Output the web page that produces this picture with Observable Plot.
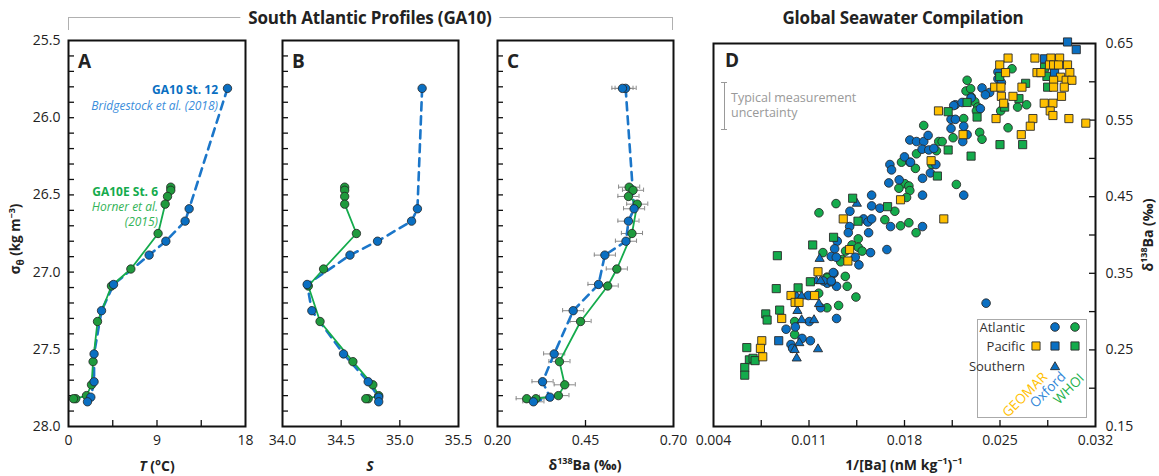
<!DOCTYPE html>
<html><head><meta charset="utf-8">
<script src="https://cdn.jsdelivr.net/npm/d3@7"></script>
<script src="https://cdn.jsdelivr.net/npm/@observablehq/plot@0.6"></script>
<style>
body{margin:0;background:#fff;}
#wrap{position:relative;width:1159px;height:476px;font-family:"Open Sans",sans-serif;color:#222;overflow:hidden;background:#fff}
.abs{position:absolute;white-space:nowrap;line-height:1}
.panel{position:absolute;top:0}
.panel svg{overflow:visible}
</style></head><body><div id="wrap"></div>
<script>
// ---------- Panels A–C: South Atlantic profiles ----------
// GA10 St. 12 (Bridgestock et al. 2018)
const blueSigma = [25.81, 26.59, 26.67, 26.80, 26.89, 27.08, 27.25, 27.53, 27.71, 27.81, 27.84];
const blueT     = [16.17, 12.27, 11.86, 9.90, 8.20, 4.58, 3.36, 2.60, 2.60, 2.27, 1.93];
const blueS     = [35.19, 35.15, 35.10, 34.81, 34.575, 34.21, 34.25, 34.52, 34.73, 34.82, 34.82];
const blueBa    = [0.564, 0.588, 0.572, 0.565, 0.505, 0.487, 0.415, 0.361, 0.328, 0.349, 0.302];
const blueBaReplicate = [[25.81, 0.555]];
// GA10E St. 6 (Horner et al. 2015)
const greenSigma = [26.45, 26.47, 26.51, 26.56, 26.75, 26.98, 27.09, 27.32, 27.58, 27.73, 27.80, 27.82, 27.82];
const greenT     = [10.40, 10.40, 10.07, 9.83, 9.11, 6.34, 4.37, 2.95, 2.50, 2.34, 1.83, 0.74, 0.51];
const greenS     = [34.53, 34.53, 34.53, 34.53, 34.63, 34.35, 34.22, 34.32, 34.60, 34.77, 34.82, 34.73, 34.71];
const greenBa    = [0.574, 0.585, 0.572, 0.597, 0.582, 0.539, 0.513, 0.436, 0.376, 0.391, 0.373, 0.309, 0.283];
const baError = 0.03;

const sigmaTicks = [25.5, 26.0, 26.5, 27.0, 27.5, 28.0];
const tTicks = [0, 9, 18];
const sTicks = [34.0, 34.5, 35.0, 35.5];
const baTicks = [0.20, 0.45, 0.70];

// ---------- Panel D: global seawater compilation [1/[Ba], d138Ba] ----------
const atlanticOxford = [
 [0.01283,0.350],[0.01234,0.337],[0.01302,0.333],[0.01263,0.339],[0.01095,0.321],[0.01185,0.305],[0.01102,0.287],
 [0.01302,0.291],[0.00932,0.277],[0.0100,0.280],[0.01049,0.265],[0.0111,0.262],[0.00968,0.257],[0.0098,0.252],
 [0.01693,0.492],[0.01705,0.485],[0.01839,0.495],[0.0203,0.492],[0.0199,0.481],[0.01932,0.474],[0.01685,0.468],
 [0.01761,0.472],[0.01932,0.452],[0.01559,0.452],[0.0140,0.431],[0.01559,0.438],[0.0162,0.435],[0.0150,0.421],
 [0.01532,0.417],[0.01559,0.421],[0.01698,0.411],[0.01932,0.411],[0.01398,0.411],[0.01388,0.403],[0.01537,0.403],
 [0.01307,0.392],[0.01288,0.382],[0.01551,0.377],[0.01671,0.381],[0.01263,0.372],[0.0130,0.371],[0.01439,0.371],
 [0.01466,0.361],[0.01278,0.351],[0.01205,0.340],[0.01263,0.340],
 [0.02485,0.613],[0.02485,0.604],[0.0251,0.599],[0.02368,0.592],[0.02424,0.586],[0.02393,0.583],[0.02173,0.570],
 [0.02161,0.569],[0.02222,0.573],[0.02288,0.579],[0.02356,0.565],[0.02141,0.551],[0.02173,0.551],[0.02141,0.539],
 [0.02234,0.542],[0.02259,0.531],[0.02227,0.522],[0.01839,0.524],[0.01888,0.522],[0.01941,0.522],[0.01973,0.530],
 [0.01929,0.512],[0.01978,0.511],[0.02015,0.513],[0.0180,0.502],[0.01844,0.495],[0.02234,0.452],[0.02398,0.311]
];
const atlanticWHOI = [
 [0.01232,0.345],[0.01366,0.346],[0.0138,0.333],[0.01444,0.319],[0.01171,0.324],[0.01317,0.308],[0.01232,0.305],
 [0.01017,0.312],[0.00995,0.287],[0.00995,0.270],
 [0.01778,0.495],[0.0188,0.487],[0.0200,0.492],[0.01802,0.467],[0.01832,0.464],[0.01839,0.458],[0.01759,0.461],
 [0.01815,0.449],[0.01298,0.441],[0.01173,0.429],[0.01729,0.431],[0.01656,0.420],[0.01771,0.412],[0.01832,0.416],
 [0.01885,0.403],[0.01461,0.395],[0.01202,0.377],[0.01415,0.387],[0.01461,0.384],[0.0149,0.379],[0.01368,0.379],
 [0.01344,0.368],[0.01332,0.365],[0.01234,0.344],
 [0.02588,0.617],[0.02505,0.562],[0.02629,0.567],[0.02695,0.570],[0.02559,0.540],[0.02259,0.602],[0.02251,0.588],
 [0.02285,0.591],[0.0229,0.580],[0.02315,0.574],[0.02337,0.567],[0.02327,0.562],[0.02234,0.552],[0.02351,0.534],
 [0.02368,0.525],[0.02156,0.527],[0.01941,0.543],[0.02051,0.522],[0.02076,0.522],[0.02034,0.510],[0.01888,0.506],
 [0.0218,0.466]
];
const pacificGEOMAR = [
 [0.01166,0.352],[0.00968,0.321],[0.01141,0.321],[0.00998,0.312],[0.01027,0.312],[0.0090,0.291],[0.00754,0.262],
 [0.00744,0.252],[0.00761,0.241],[0.01771,0.446],[0.01351,0.421],[0.02088,0.421],[0.01398,0.381],[0.01385,0.366],
 [0.02559,0.631],[0.02756,0.631],[0.02873,0.631],[0.02937,0.631],[0.02498,0.622],[0.02863,0.622],[0.02893,0.622],
 [0.02929,0.622],[0.02995,0.622],[0.02541,0.612],[0.02771,0.612],[0.0280,0.612],[0.03012,0.612],[0.02944,0.606],
 [0.02893,0.602],[0.02985,0.602],[0.03027,0.602],[0.02661,0.593],[0.02461,0.593],[0.02507,0.593],[0.02893,0.593],
 [0.02971,0.593],[0.0251,0.581],[0.02595,0.581],[0.02951,0.581],[0.02527,0.572],[0.02824,0.572],[0.02888,0.572],
 [0.02868,0.562],[0.02888,0.556],[0.02471,0.552],[0.02741,0.552],[0.03005,0.552],[0.03129,0.546],[0.02722,0.542],
 [0.02656,0.531],[0.02049,0.562],[0.02229,0.531],[0.01995,0.497]
];
const pacificOxford = [[0.00878,0.262],[0.02995,0.652],[0.03059,0.642],[0.02827,0.630],[0.0290,0.612]];
const pacificWHOI = [
 [0.0086,0.330],[0.0102,0.331],[0.0111,0.339],[0.00885,0.302],[0.00783,0.297],[0.00793,0.289],[0.00644,0.253],
 [0.00663,0.237],[0.0069,0.239],[0.00705,0.236],[0.00629,0.227],[0.00629,0.217],
 [0.02041,0.477],[0.0142,0.448],[0.01676,0.437],[0.01459,0.418],[0.0128,0.397],[0.01127,0.387],
 [0.02827,0.619],[0.02498,0.607],[0.02844,0.607],[0.02688,0.598],[0.02849,0.593],[0.02639,0.578],[0.0212,0.561],
 [0.02534,0.567],[0.02332,0.554],[0.02259,0.573],[0.0212,0.511],[0.0250,0.518],[0.02666,0.518],[0.02288,0.503],
 [0.00868,0.373]
];
const southernOxford = [
 [0.01154,0.340],[0.01185,0.340],[0.0101,0.320],[0.01046,0.320],[0.01173,0.310],[0.01015,0.301],[0.01046,0.289],
 [0.01137,0.289],[0.01029,0.259],[0.00995,0.250],[0.01166,0.251],[0.0101,0.239],[0.01451,0.441],[0.01178,0.369]
];
const dXTicks = [0.004, 0.011, 0.018, 0.025, 0.032];
const dYTicks = [0.15, 0.25, 0.35, 0.45, 0.55, 0.65];

// ---------- styling ----------
const BLUE = "#0a6fc2", BLUELINE = "#1b76c9", GREEN = "#14ab4c", DKGREEN = "#1f9a3d", YELLOW = "#ffc000";
const FONT = "Open Sans, sans-serif";
const wrap = document.getElementById("wrap");

const blueRows = blueSigma.map((s, i) => ({sigma: s, T: blueT[i], S: blueS[i], Ba: blueBa[i]}));
const greenRows = greenSigma.map((s, i) => ({sigma: s, T: greenT[i], S: greenS[i], Ba: greenBa[i]}));
const repRows = blueBaReplicate.map(([s, b]) => ({sigma: s, Ba: b}));

function place(svg, left) {
  const d = document.createElement("div");
  d.className = "panel"; d.style.left = left + "px";
  d.appendChild(svg); wrap.appendChild(d);
}
function txt(html, x, y, o = {}) {
  const el = document.createElement("div");
  el.className = "abs";
  el.innerHTML = html;
  const a = o.anchor || "middle";
  const tx = a === "start" ? "0" : a === "end" ? "-100%" : "-50%";
  el.style.left = x + "px"; el.style.top = y + "px";
  el.style.transform = `translate(${tx},-50%)` + (o.rotate ? ` rotate(${o.rotate}deg)` : "");
  el.style.fontSize = (o.size || 14) + "px";
  el.style.fontWeight = o.weight || "normal";
  el.style.fontStyle = o.italic ? "italic" : "normal";
  el.style.color = o.color || "#222";
  if (o.ls) el.style.letterSpacing = o.ls + "px";
  if (o.bg) { el.style.background = o.bg; el.style.padding = "0 8px"; }
  wrap.appendChild(el);
  return el;
}

const H = 476, MT = 40, MB = 50;
function profile({left, width, mL, mR, key, xDomain, xTicks, xFmt, xInner, yAxis, errors}) {
  const fw = width - mL - mR, fh = H - MT - MB;
  const sigmaMinor = d3.range(25.6, 27.95, 0.1);
  const marks = [
    Plot.tickY(sigmaMinor, {y: d => d, insetRight: fw - 6, stroke: "#111", strokeWidth: 1.3}),
    Plot.tickX(xInner, {x: d => d, insetTop: fh - 6, stroke: "#111", strokeWidth: 1.3}),
    Plot.axisX({ticks: xTicks, tickFormat: xFmt, tickSize: 0, tickPadding: 9, label: null})
  ];
  if (yAxis) marks.push(Plot.axisY({ticks: sigmaTicks, tickFormat: d => d.toFixed(1), tickSize: 0, tickPadding: 8, label: null}));
  if (errors) {
    for (const rows of [blueRows, greenRows, repRows]) {
      marks.push(
        Plot.ruleY(rows, {y: "sigma", x1: d => d.Ba - baError, x2: d => d.Ba + baError, stroke: "#8a8a8a", strokeWidth: 1}),
        Plot.ruleX(rows, {x: d => d.Ba - baError, y1: d => d.sigma - 0.014, y2: d => d.sigma + 0.014, stroke: "#8a8a8a", strokeWidth: 1}),
        Plot.ruleX(rows, {x: d => d.Ba + baError, y1: d => d.sigma - 0.014, y2: d => d.sigma + 0.014, stroke: "#8a8a8a", strokeWidth: 1})
      );
    }
  }
  marks.push(
    Plot.line(blueRows, {x: key, y: "sigma", stroke: BLUELINE, strokeWidth: 2.6, strokeDasharray: "8,6"}),
    Plot.line(greenRows, {x: key, y: "sigma", stroke: GREEN, strokeWidth: 1.8}),
    Plot.dot(greenRows, {x: key, y: "sigma", r: 4.2, fill: DKGREEN, stroke: "#222", strokeWidth: 0.8}),
    Plot.dot(blueRows, {x: key, y: "sigma", r: 4.2, fill: BLUE, stroke: "#222", strokeWidth: 0.8})
  );
  if (errors) marks.push(Plot.dot(repRows, {x: "Ba", y: "sigma", r: 4.2, fill: BLUE, stroke: "#222", strokeWidth: 0.8}));
  marks.push(Plot.frame({stroke: "#111", strokeWidth: 2}));
  const svg = Plot.plot({
    width, height: H, marginLeft: mL, marginRight: mR, marginTop: MT, marginBottom: MB,
    x: {domain: xDomain},
    y: {domain: [25.5, 28], reverse: true, axis: yAxis ? undefined : null},
    style: {fontFamily: FONT, fontSize: "14px", color: "#222", background: "transparent", overflow: "visible"},
    marks
  });
  place(svg, left);
}

profile({left: 0, width: 260, mL: 68, mR: 15, key: "T", xDomain: [0, 18], xTicks: tTicks, xFmt: d => String(d), xInner: [4.5, 9, 13.5], yAxis: true});
profile({left: 262, width: 212, mL: 20, mR: 16, key: "S", xDomain: [34, 35.5], xTicks: sTicks, xFmt: d => d.toFixed(1), xInner: [34.5, 35.0], yAxis: false});
profile({left: 477, width: 212, mL: 20, mR: 16, key: "Ba", xDomain: [0.2, 0.7], xTicks: baTicks, xFmt: d => d.toFixed(2), xInner: [0.45], yAxis: false, errors: true});

// Panel D
{
  const width = 469, mL = 23, mR = 64, mT = 43, mB = 50;
  const fw = width - mL - mR, fh = H - mT - mB;
  const pts = a => a.map(([x, y]) => ({x, y}));
  const dotStyle = {x: "x", y: "y", stroke: "#2a2a2a", strokeWidth: 0.9};
  const svg = Plot.plot({
    width, height: H, marginLeft: mL, marginRight: mR, marginTop: mT, marginBottom: mB,
    x: {domain: [0.004, 0.032]},
    y: {domain: [0.15, 0.65]},
    style: {fontFamily: FONT, fontSize: "14px", color: "#222", background: "transparent", overflow: "visible"},
    marks: [
      Plot.tickX([0.0075, 0.011, 0.0145, 0.018, 0.0215, 0.025, 0.0285], {x: d => d, insetTop: fh - 6, stroke: "#111", strokeWidth: 1.3}),
      Plot.tickY([0.2, 0.25, 0.3, 0.35, 0.4, 0.45, 0.5, 0.55, 0.6], {y: d => d, insetLeft: fw - 6, stroke: "#111", strokeWidth: 1.3}),
      Plot.axisX({ticks: dXTicks, tickFormat: d3.format(".3f"), tickSize: 0, tickPadding: 9, label: null}),
      Plot.axisY({anchor: "right", ticks: dYTicks, tickFormat: d3.format(".2f"), tickSize: 0, tickPadding: 10, label: null}),
      Plot.frame({stroke: "#111", strokeWidth: 2}),
      Plot.dot(pts(atlanticWHOI), {...dotStyle, r: 4.3, fill: GREEN}),
      Plot.dot(pts(atlanticOxford), {...dotStyle, r: 4.3, fill: BLUE}),
      Plot.dot(pts(southernOxford), {...dotStyle, r: 3.4, symbol: "triangle", fill: BLUE}),
      Plot.dot(pts(pacificWHOI), {...dotStyle, r: 4.6, symbol: "square", fill: GREEN}),
      Plot.dot(pts(pacificOxford), {...dotStyle, r: 4.6, symbol: "square", fill: BLUE}),
      Plot.dot(pts(pacificGEOMAR), {...dotStyle, r: 4.6, symbol: "square", fill: YELLOW})
    ]
  });
  place(svg, 690);
}

// ---------- titles & labels ----------
const br = document.createElement("div");
br.style.cssText = "position:absolute;left:68px;top:17px;width:603px;height:12px;border:1.3px solid #b0b0b0;border-bottom:none";
wrap.appendChild(br);
txt("South Atlantic Profiles (GA10)", 370, 17, {size: 17, weight: "bold", bg: "#fff", ls: -0.2});
txt("Global Seawater Compilation", 903, 17, {size: 17, weight: "bold", ls: -0.2});

txt("A", 78, 61, {anchor: "start", size: 19, weight: "bold"});
txt("B", 292, 61, {anchor: "start", size: 19, weight: "bold"});
txt("C", 507, 61, {anchor: "start", size: 19, weight: "bold"});
txt("D", 725, 60, {anchor: "start", size: 19, weight: "bold"});

txt("GA10 St. 12", 218, 89.5, {anchor: "end", size: 12, weight: "bold", color: BLUE});
txt("Bridgestock et al. (2018)", 218, 105.5, {anchor: "end", size: 12, italic: true, color: "#3a8ddb"});
txt("GA10E St. 6", 158, 191.5, {anchor: "end", size: 12, weight: "bold", color: GREEN});
txt("Horner et al.", 158, 207, {anchor: "end", size: 12, italic: true, color: "#33b357"});
txt("(2015)", 158, 222, {anchor: "end", size: 12, italic: true, color: "#33b357"});

txt("σ<sub style='font-size:10px;line-height:0'>θ</sub> (kg m<sup style='font-size:9px;line-height:0'>−3</sup>)", 16, 239, {size: 13.5, weight: "bold", rotate: -90});
txt("<i>T</i> (°C)", 157, 466, {size: 14, weight: "bold"});
txt("<i>S</i>", 370, 466, {size: 14, weight: "bold"});
txt("δ<sup style='font-size:9px;line-height:0'>138</sup>Ba (‰)", 585, 465, {size: 14, weight: "bold"});
txt("1/[Ba] (nM kg<sup style='font-size:9px;line-height:0'>−1</sup>)<sup style='font-size:9px;line-height:0'>−1</sup>", 904, 465, {size: 14, weight: "bold"});
txt("δ<sup style='font-size:9px;line-height:0'>138</sup>Ba (‰)", 1148, 235, {size: 14, weight: "bold", rotate: -90});

// typical uncertainty annotation
const ub = document.createElement("div");
ub.style.cssText = "position:absolute;left:721px;top:82px;width:6px;height:46px;border-top:1.3px solid #999;border-bottom:1.3px solid #999";
const ul = document.createElement("div");
ul.style.cssText = "position:absolute;left:2.5px;top:0;width:0;height:46px;border-left:1.5px solid #999";
ub.appendChild(ul); wrap.appendChild(ub);
txt("Typical measurement", 731, 98, {anchor: "start", size: 12.5, color: "#999"});
txt("uncertainty", 731, 113, {anchor: "start", size: 12.5, color: "#999"});

// legend
const lg = document.createElement("div");
lg.style.cssText = "position:absolute;left:977px;top:319px;width:108px;height:97px;border:1.3px solid #aaa;background:#fff";
wrap.appendChild(lg);
txt("Atlantic", 1025, 327, {anchor: "end", size: 13, color: "#333"});
txt("Pacific", 1025, 346, {anchor: "end", size: 13, color: "#333"});
txt("Southern", 1025, 366, {anchor: "end", size: 13, color: "#333"});
const ns = "http://www.w3.org/2000/svg";
const ls = document.createElementNS(ns, "svg");
ls.setAttribute("width", 1159); ls.setAttribute("height", 476);
ls.style.cssText = "position:absolute;left:0;top:0;overflow:visible";
const sym = (type, x, y, fill) => {
  const g = document.createElementNS(ns, "path");
  const s = type === "circle" ? d3.symbol(d3.symbolCircle, Math.PI * 4.3 * 4.3)
          : type === "square" ? d3.symbol(d3.symbolSquare, Math.PI * 4.6 * 4.6)
          : d3.symbol(d3.symbolTriangle, Math.PI * 3.4 * 3.4);
  g.setAttribute("d", s()); g.setAttribute("transform", `translate(${x},${y})`);
  g.setAttribute("fill", fill); g.setAttribute("stroke", "#2a2a2a"); g.setAttribute("stroke-width", 0.9);
  ls.appendChild(g);
};
sym("circle", 1055, 327, BLUE); sym("circle", 1075, 327, GREEN);
sym("square", 1036, 346, YELLOW); sym("square", 1055, 346, BLUE); sym("square", 1075, 346, GREEN);
sym("triangle", 1055, 367, BLUE);
wrap.appendChild(ls);
txt("GEOMAR", 1025, 395, {size: 13.5, color: "#ffc000", rotate: -45});
txt("Oxford", 1048, 390, {size: 13.5, color: "#2f86d8", rotate: -45});
txt("WHOI", 1069, 389, {size: 13.5, color: "#22b14c", rotate: -45});
</script></body></html>
